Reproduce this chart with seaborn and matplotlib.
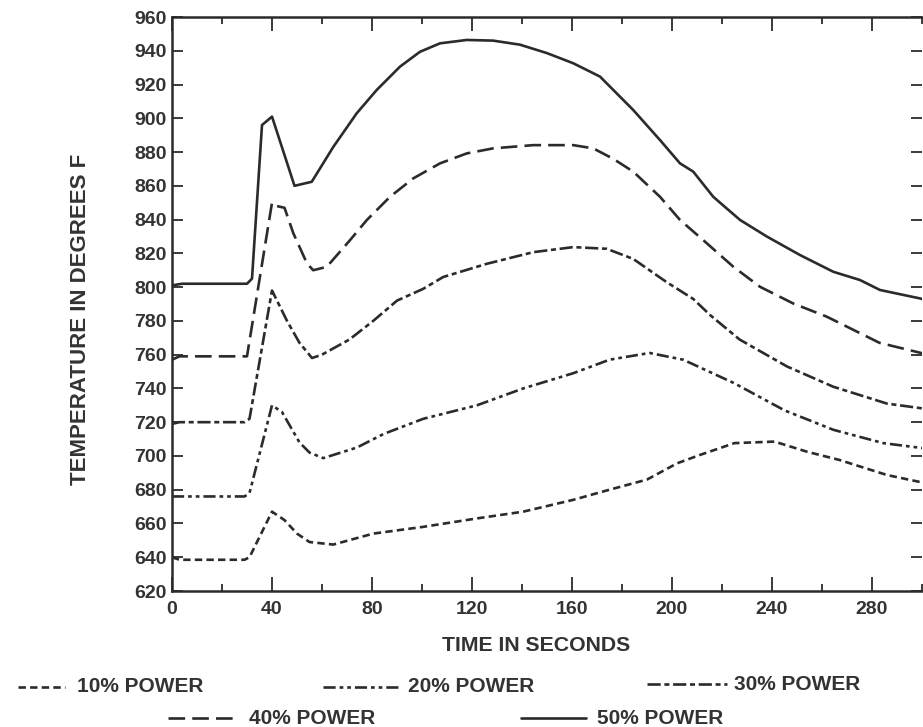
import numpy as np
import pandas as pd
import matplotlib
matplotlib.use("Agg")
import matplotlib.pyplot as plt
from matplotlib.lines import Line2D
from matplotlib.ticker import MultipleLocator
import seaborn as sns

# Fuel temperature transients for five reactor power levels
t_10 = [0, 3, 29, 31, 40, 45, 50, 55, 64.5, 80.5, 100.5, 122, 140.5, 160.5, 175, 190, 202, 211, 225, 241, 254, 267, 286, 301]
T_10 = [640, 638.5, 638.5, 640, 667, 662, 654, 649, 647.5, 654, 658, 663, 667, 674, 680, 686, 695.6, 700.5, 707.6, 708.5, 702.5, 697.6, 688.7, 684]

t_20 = [0, 3, 29, 31, 40, 44, 51, 55, 60.5, 74, 84.6, 100.5, 122, 140.5, 160.5, 175, 191, 204.5, 225, 245, 264.5, 284.5, 301]
T_20 = [676, 676, 676, 678, 730, 726, 708, 702, 698.7, 705, 713, 722, 730, 740, 749, 757, 761, 757, 743, 727, 715.5, 707.6, 704.5]

t_30 = [0, 3, 29, 31, 40, 46, 51, 56, 60, 71, 80.5, 90, 100.5, 108.5, 125.9, 144.5, 160.5, 173.9, 184.5, 197.9, 208.5, 215.2, 227, 246, 264.5, 286, 301]
T_30 = [719, 720, 720, 722, 798, 780, 767, 758, 760, 769, 780, 792, 799, 806, 813.8, 820.7, 823.7, 822.7, 816.7, 802.9, 793, 783.5, 769, 753, 741, 731, 728]

t_40 = [0, 3, 30, 40, 42, 45, 48.5, 54, 56.5, 61.9, 71.2, 77.9, 87.2, 96.5, 107.2, 117.9, 128.5, 144.5, 160.5, 168.5, 176.5, 184.5, 195.2, 203.2, 213.9, 224.5, 235.2, 248.5, 261.9, 283, 301]
T_40 = [757, 759, 759, 850, 848, 847, 832, 814, 810, 812, 827.8, 839.7, 853.5, 864.4, 873.3, 879.2, 882.2, 884.1, 884.1, 882.2, 876, 868.4, 853.5, 839.8, 826, 812.1, 800.2, 790.3, 782.5, 767, 760.5]

t_50 = [0, 4, 30, 32, 36, 40, 49, 55.9, 64.5, 73.9, 81.9, 91.2, 99.2, 107.2, 117.9, 128.5, 139.2, 150, 160.5, 171.2, 184.5, 195.2, 203.2, 208.5, 216.5, 227.2, 237.9, 251.2, 264.5, 275.2, 283.2, 299.2, 301]
T_50 = [801, 802, 802, 805, 896, 901, 860, 862.4, 883, 903, 916.8, 930.6, 939.4, 944.4, 946.4, 946, 943.6, 938.6, 932.6, 924.7, 904.9, 887.1, 873.3, 868.4, 853.5, 839.8, 830, 819, 809.1, 804.2, 798.3, 793.3, 792.5]

series_names = ["10% POWER", "20% POWER", "30% POWER", "40% POWER", "50% POWER"]
x_ticks = [0, 40, 80, 120, 160, 200, 240, 280]
y_ticks = list(range(620, 961, 20))

frames = []
for name, t, T in zip(series_names, [t_10, t_20, t_30, t_40, t_50], [T_10, T_20, T_30, T_40, T_50]):
    frames.append(pd.DataFrame({"time": t, "temp": T, "power": name}))
df = pd.concat(frames, ignore_index=True)

ink = "#2b2b2b"
txt = "#333333"
lw = 1.9
dash_map = {
    "10% POWER": (2.8, 1.6),
    "20% POWER": (4.6, 1.5, 1.4, 1.5, 1.4, 1.5),
    "30% POWER": (5.0, 1.4, 1.9, 1.4),
    "40% POWER": (6.3, 2.7),
    "50% POWER": "",
}

sns.set_style("ticks")
plt.rcParams["font.family"] = ["Liberation Sans", "DejaVu Sans"]

fig = plt.figure(figsize=(9.23, 7.27), dpi=100)
fig.patch.set_facecolor("white")
W, H = 923.0, 727.0
ax = fig.add_axes([172 / W, 1 - 591 / H, (922 - 172) / W, (591 - 17) / H])

sns.lineplot(data=df, x="time", y="temp", hue="power", style="power",
             palette={n: ink for n in series_names}, dashes=dash_map,
             estimator=None, sort=False, linewidth=lw, legend=False, ax=ax)
for ln in ax.get_lines():
    ln.set_solid_joinstyle("round")
    ln.set_dash_joinstyle("round")

ax.set_xlim(0, 300)
ax.set_ylim(620, 960)
ax.set_xticks(x_ticks)
ax.xaxis.set_minor_locator(MultipleLocator(20))
ax.set_yticks(y_ticks)

ax.set_xticklabels([str(v) for v in x_ticks], fontweight="bold", fontsize=14, color=txt)
ax.set_yticklabels([str(v) for v in y_ticks], fontweight="bold", fontsize=14, color=txt)

ax.tick_params(axis="x", which="major", direction="in", top=True, length=10, width=1.3, color=ink, pad=7)
ax.tick_params(axis="x", which="minor", direction="in", top=True, length=5, width=1.3, color=ink)
ax.tick_params(axis="y", which="major", direction="in", left=True, right=True, length=8, width=1.3, color=ink, pad=4)

for side in ["left", "bottom", "top"]:
    ax.spines[side].set_color(ink)
    ax.spines[side].set_linewidth(1.8)
ax.spines["right"].set_visible(False)

ax.set_xlabel("TIME IN SECONDS", fontweight="bold", fontsize=15.3, color=txt)
ax.xaxis.set_label_coords((536 - 172) / 750, (591 - 636) / 574)
ax.set_ylabel("TEMPERATURE IN DEGREES F", fontweight="bold", fontsize=16, color=txt)
ax.yaxis.set_label_coords((91 - 172) / 750, (591 - 319) / 574)

# Key below the plot, two rows
key = [
    ("10% POWER", 18, 65, 77, 687),
    ("20% POWER", 323, 398, 408, 687),
    ("30% POWER", 647, 727, 734, 684),
    ("40% POWER", 168, 237, 249, 718),
    ("50% POWER", 521, 586, 597, 718),
]
for name, x0, x1, xt, yp in key:
    ln = Line2D([x0 / W, x1 / W], [1 - yp / H, 1 - yp / H], transform=fig.transFigure,
                color=ink, linewidth=lw)
    d = dash_map[name]
    if d:
        ln.set_dashes(d)
    fig.add_artist(ln)
    fig.text(xt / W, 1 - yp / H, name, fontsize=15, fontweight="bold", color=txt,
             ha="left", va="center")

fig.savefig("out.png", dpi=100, facecolor="white")
